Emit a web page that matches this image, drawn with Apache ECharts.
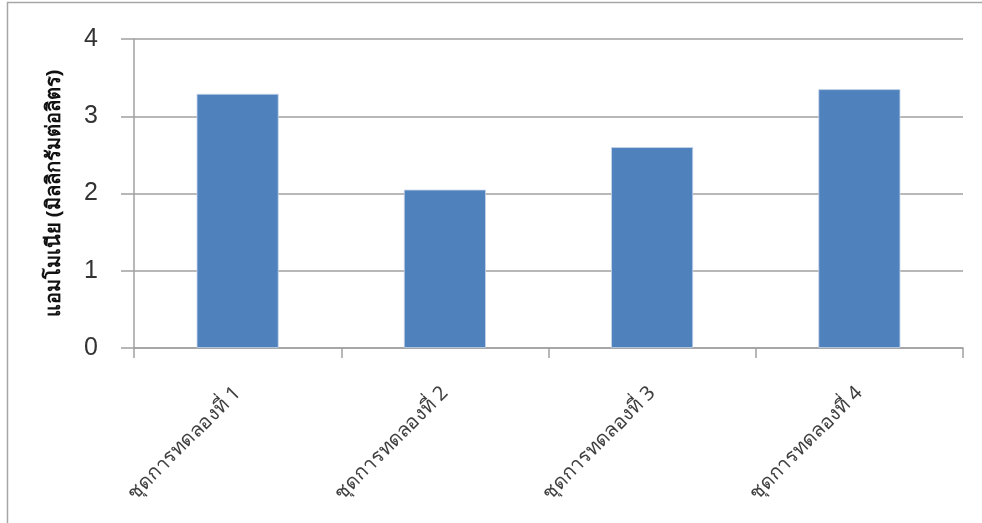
<!DOCTYPE html>
<html>
<head>
<meta charset="utf-8">
<script src="https://cdn.jsdelivr.net/npm/echarts@6/dist/echarts.min.js"></script>
<style>
html,body{margin:0;padding:0;background:#fff;}
#chart{width:982px;height:523px;}
</style>
</head>
<body>
<div id="chart"></div>
<script>
const categories = ['ชุดการทดลองที่ 1', 'ชุดการทดลองที่ 2', 'ชุดการทดลองที่ 3', 'ชุดการทดลองที่ 4'];
const ammoniaValues = [3.29, 2.05, 2.60, 3.35];
const yAxisTitle = 'แอมโมเนีย (มิลลิกรัมต่อลิตร)';
const yTicks = [0, 1, 2, 3, 4];

const chart = echarts.init(document.getElementById('chart'));
chart.setOption({
  backgroundColor: '#fff',
  animation: false,
  graphic: [{
    type: 'rect',
    shape: { x: 7.5, y: 2.5, width: 1200, height: 1200 },
    style: { fill: 'none', stroke: '#a6a6a6', lineWidth: 1.5 },
    silent: true
  }],
  grid: { left: 134, right: 19, top: 39, bottom: 175, containLabel: false },
  xAxis: {
    type: 'category',
    data: categories,
    boundaryGap: true,
    axisLine: { show: true, lineStyle: { color: '#a0a0a0', width: 1.5 } },
    axisTick: { show: true, alignWithLabel: false, length: 10, lineStyle: { color: '#a0a0a0', width: 1.5 } },
    axisLabel: {
      rotate: 45,
      margin: 42,
      fontSize: 20,
      color: '#404040',
      fontFamily: 'Tahoma, "Noto Sans", "DejaVu Sans", sans-serif'
    }
  },
  yAxis: {
    type: 'value',
    min: yTicks[0],
    max: yTicks[yTicks.length - 1],
    interval: 1,
    name: yAxisTitle,
    nameLocation: 'middle',
    nameGap: 70,
    nameRotate: 90,
    nameTextStyle: {
      fontSize: 20,
      fontWeight: 'bold',
      color: '#111',
      fontFamily: 'Tahoma, "Noto Sans", "DejaVu Sans", sans-serif'
    },
    axisLine: { show: true, lineStyle: { color: '#a0a0a0', width: 1.5 } },
    axisTick: { show: true, length: 13, lineStyle: { color: '#a0a0a0', width: 1.5 } },
    splitLine: { show: true, lineStyle: { color: '#a0a0a0', width: 1.5 } },
    axisLabel: {
      margin: 36,
      fontSize: 25,
      color: '#333',
      fontFamily: '"Liberation Sans", Arial, sans-serif',
      formatter: v => String(v)
    }
  },
  series: [{
    type: 'bar',
    data: ammoniaValues,
    barWidth: 82,
    itemStyle: { color: '#4f81bd', borderColor: '#c6d6ea', borderWidth: 0.8 }
  }]
});
</script>
</body>
</html>
